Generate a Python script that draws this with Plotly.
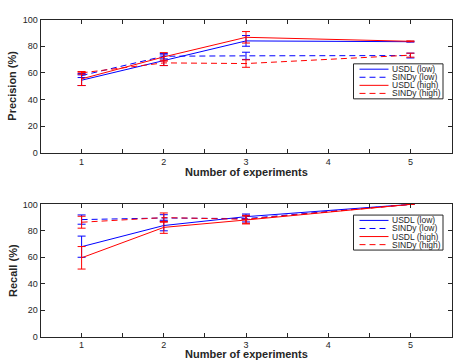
import plotly.graph_objects as go

# ---------------- data ----------------
experiments = [1, 2, 3, 5]
series_names = ["USDL (low)", "SINDy (low)", "USDL (high)", "SINDy (high)"]

prec_usdl_low = [54.5, 69.5, 84.0, 83.4]
prec_usdl_low_err = [4.0, 4.0, 4.0, 0.3]
prec_sindy_low = [58.0, 72.5, 72.8, 73.0]
prec_sindy_low_err = [1.5, 2.0, 2.7, 1.8]
prec_usdl_high = [55.5, 72.0, 86.7, 83.7]
prec_usdl_high_err = [5.0, 3.2, 4.3, 0.3]
prec_sindy_high = [60.0, 67.5, 67.0, 73.3]
prec_sindy_high_err = [1.0, 2.0, 2.8, 1.5]

rec_usdl_low = [68.0, 84.0, 90.7, 100.0]
rec_usdl_low_err = [8.0, 4.0, 2.0, 0.0]
rec_sindy_low = [88.5, 89.7, 89.2, 100.0]
rec_sindy_low_err = [3.5, 2.5, 2.5, 0.0]
rec_usdl_high = [59.6, 82.6, 88.2, 100.0]
rec_usdl_high_err = [8.5, 4.5, 3.0, 0.0]
rec_sindy_high = [86.5, 90.0, 88.7, 100.0]
rec_sindy_high_err = [4.5, 3.5, 3.0, 0.0]

x_tick_vals = [1, 1.5, 2, 2.5, 3, 3.5, 4, 4.5, 5]
x_tick_text = ["1", "", "2", "", "3", "", "4", "", "5"]
y_tick_vals = [0, 20, 40, 60, 80, 100]

# ---------------- style ----------------
W, H = 453, 364
colors = ["#0000ff", "#0000ff", "#ff0000", "#ff0000"]
dashes = ["solid", "6px,4px", "solid", "6px,4px"]
AX = "#262626"
FONT = "Liberation Sans, Arial, Helvetica, sans-serif"


def px(x):
    return x / W


def py(y):
    return 1 - y / H


fig = go.Figure()

prec_sets = [
    (prec_usdl_low, prec_usdl_low_err),
    (prec_sindy_low, prec_sindy_low_err),
    (prec_usdl_high, prec_usdl_high_err),
    (prec_sindy_high, prec_sindy_high_err),
]
rec_sets = [
    (rec_usdl_low, rec_usdl_low_err),
    (rec_sindy_low, rec_sindy_low_err),
    (rec_usdl_high, rec_usdl_high_err),
    (rec_sindy_high, rec_sindy_high_err),
]

for sets, xa, ya in [(prec_sets, "x", "y"), (rec_sets, "x2", "y2")]:
    for (vals, errs), name, c, d in zip(sets, series_names, colors, dashes):
        fig.add_trace(go.Scatter(
            x=experiments, y=vals, name=name, mode="lines",
            line=dict(color=c, width=1, dash=d),
            error_y=dict(type="data", array=errs, visible=True,
                         color=c, thickness=1, width=4),
            xaxis=xa, yaxis=ya, showlegend=False,
        ))

xdom = [px(40.5), px(451.5)]
axis_common = dict(
    showline=True, linecolor=AX, linewidth=1, mirror="ticks",
    ticks="inside", ticklen=4, tickcolor=AX, tickwidth=1,
    showgrid=False, zeroline=False,
    tickfont=dict(family=FONT, size=9, color=AX),
)

fig.update_layout(
    width=W, height=H,
    margin=dict(l=0, r=0, t=0, b=0),
    paper_bgcolor="white", plot_bgcolor="white",
    font=dict(family=FONT, color=AX),
    xaxis=dict(domain=xdom, range=[0.5, 5.5], tickvals=x_tick_vals,
               ticktext=x_tick_text, anchor="y", **axis_common),
    yaxis=dict(domain=[py(152), py(15)], range=[0, 100], tickvals=y_tick_vals,
               anchor="x", **axis_common),
    xaxis2=dict(domain=xdom, range=[0.5, 5.5], tickvals=x_tick_vals,
                ticktext=x_tick_text, anchor="y2", **axis_common),
    yaxis2=dict(domain=[py(341), py(205)], range=[0, 100], tickvals=y_tick_vals,
                anchor="x2", **axis_common),
)

annotations = []
shapes = []
title_font = dict(family=FONT, size=11, color=AX)
for ty in [171.5, 359.0]:
    annotations.append(dict(text="<b>Number of experiments</b>", x=px(246), y=py(ty),
                            xref="paper", yref="paper", showarrow=False, borderpad=0,
                            xanchor="center", yanchor="middle", font=title_font))
annotations.append(dict(text="<b>Precision (%)</b>", x=px(12.5), y=py(83.5),
                        xref="paper", yref="paper", showarrow=False, textangle=-90,
                        borderpad=0, xanchor="center", yanchor="middle", font=title_font))
annotations.append(dict(text="<b>Recall (%)</b>", x=px(12.5), y=py(273),
                        xref="paper", yref="paper", showarrow=False, textangle=-90,
                        borderpad=0, xanchor="center", yanchor="middle", font=title_font))

# hand-drawn legend boxes (one per panel)
for top in [60.5, 216.0]:
    shapes.append(dict(type="rect", xref="paper", yref="paper",
                       x0=px(353.5), x1=px(443), y0=py(top), y1=py(top + 36),
                       line=dict(color=AX, width=1), fillcolor="white", layer="above"))
    for i, (name, c, d) in enumerate(zip(series_names, colors, dashes)):
        yc = top + 5.5 + i * 8.3
        shapes.append(dict(type="line", xref="paper", yref="paper",
                           x0=px(359.5), x1=px(388.5), y0=py(yc), y1=py(yc),
                           line=dict(color=c, width=1, dash=d), layer="above"))
        annotations.append(dict(text=name, x=px(390.5), y=py(yc),
                                xref="paper", yref="paper", showarrow=False,
                                borderpad=0, xanchor="left", yanchor="middle",
                                font=dict(family=FONT, size=8.5, color=AX)))

fig.update_layout(annotations=annotations, shapes=shapes)
fig.write_html("out.html",
               config={"displayModeBar": False},
               post_script="document.body.style.margin='0';document.body.style.padding='0';")
